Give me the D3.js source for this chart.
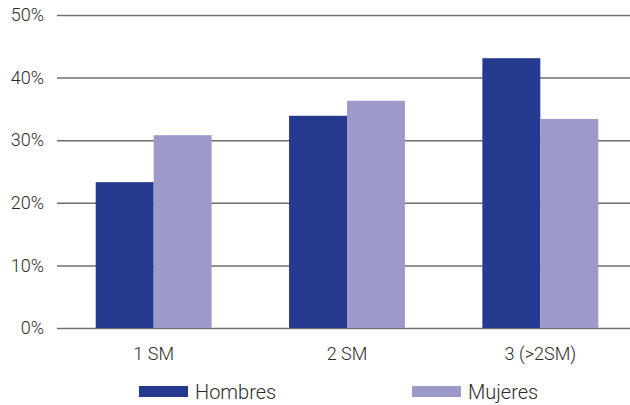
<!DOCTYPE html>
<html>
<head>
<meta charset="utf-8">
<script src="https://cdn.jsdelivr.net/npm/d3@7"></script>
<style>
  html, body { margin: 0; padding: 0; background: #fff; }
  svg text { font-family: Roboto, "Liberation Sans", Arial, sans-serif; font-weight: 300; fill: #2b2b2b; }
</style>
</head>
<body>
<svg id="chart" width="630" height="405"></svg>
<script>
const categories = ["1 SM", "2 SM", "3 (>2SM)"];
const seriesNames = ["Hombres", "Mujeres"];
const hombres = [23.3, 33.9, 43.1];
const mujeres = [30.8, 36.3, 33.4];
const yTicks = [0, 10, 20, 30, 40, 50];
const colors = ["#253a8f", "#9b9ac8"];

const svg = d3.select("#chart");
const margin = { left: 57, right: -7, top: 15, bottom: 77 };
const W = 630, H = 405;

const x = d3.scaleBand().domain(categories)
  .range([margin.left, W - margin.right]).paddingInner(0).paddingOuter(0);
const xs = d3.scaleBand().domain(seriesNames)
  .range([0, x.bandwidth()]).paddingInner(0).paddingOuter(0.668);
const y = d3.scaleLinear().domain([0, 50]).range([H - margin.bottom, margin.top]);

// grid lines with percentage labels
const yAxis = d3.axisLeft(y).tickValues(yTicks)
  .tickSize(-(W - margin.left)).tickFormat(d => d + "%").tickPadding(13);
const gy = svg.append("g").attr("transform", `translate(${margin.left},0)`).call(yAxis);
gy.select(".domain").remove();
gy.selectAll(".tick line").attr("stroke", "#6f6f6f").attr("stroke-width", 1.5);
gy.selectAll(".tick text").attr("font-size", 18).attr("fill", "#2b2b2b");

// bars
const rows = categories.map((c, i) => ({ cat: c, values: [hombres[i], mujeres[i]] }));
const groups = svg.append("g").selectAll("g").data(rows).join("g")
  .attr("transform", d => `translate(${x(d.cat)},0)`);
groups.selectAll("rect")
  .data(d => d.values.map((v, j) => ({ name: seriesNames[j], v, j })))
  .join("rect")
  .attr("x", d => xs(d.name))
  .attr("width", xs.bandwidth())
  .attr("y", d => y(d.v))
  .attr("height", d => y(0) - y(d.v))
  .attr("fill", d => colors[d.j]);

// category labels
const xAxis = d3.axisBottom(x).tickSize(0).tickPadding(19);
const gx = svg.append("g").attr("transform", `translate(0,${y(0)})`).call(xAxis);
gx.select(".domain").remove();
gx.selectAll(".tick text").attr("font-size", 18).attr("fill", "#2b2b2b");

// legend
const legendX = [139, 412];
const legend = svg.append("g").selectAll("g").data(seriesNames).join("g")
  .attr("transform", (d, i) => `translate(${legendX[i]},386)`);
legend.append("rect").attr("width", 49).attr("height", 11)
  .attr("fill", (d, i) => colors[i]);
legend.append("text").attr("x", 56).attr("y", 13)
  .attr("font-size", 20).text(d => d);
</script>
</body>
</html>
